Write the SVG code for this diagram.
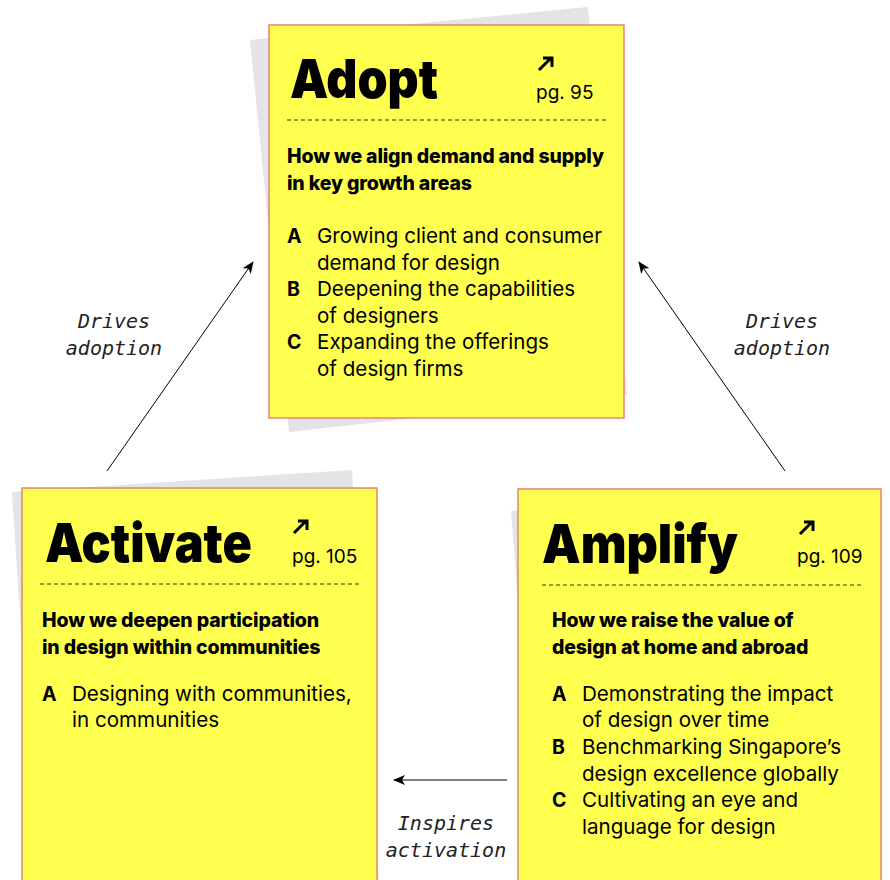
<svg xmlns="http://www.w3.org/2000/svg" width="890" height="880" viewBox="0 0 890 880">
<style>
.card{fill:#ffff50;stroke:#f08070;stroke-width:1.5}
.back{fill:#e3e4e6}
.title{font-family:Inter,"Liberation Sans",sans-serif;font-weight:900;font-size:54px;fill:#000}
.pg{font-family:Inter,"Liberation Sans",sans-serif;font-size:19px;fill:#000}
.sub{font-family:Inter,"Liberation Sans",sans-serif;font-weight:800;font-size:19.5px;fill:#000;letter-spacing:-0.15px}
.item{font-family:Inter,"Liberation Sans",sans-serif;font-size:20.6px;fill:#000}
.letter{font-family:Inter,"Liberation Sans",sans-serif;font-weight:700;font-size:19.5px;fill:#000}
.dash{stroke:#333;stroke-width:1;stroke-dasharray:4 3}
.ico{fill:none;stroke:#000;stroke-width:3}
.conn{stroke:#000;stroke-width:1;fill:none}
.lbl{font-family:"DejaVu Sans Mono","Liberation Mono",monospace;font-style:italic;font-size:20px;fill:#222;text-anchor:middle}
</style>
<defs>
<marker id="ah" viewBox="0 0 12 10" refX="11" refY="5" markerWidth="12" markerHeight="10" markerUnits="userSpaceOnUse" orient="auto">
<path d="M0,0 L12,5 L0,10 L3,5 Z" fill="#000"/>
</marker>
</defs>
<rect width="890" height="880" fill="#fff"/>

<g id="adopt">
<polygon class="back" points="250,40 588,7 627,395 289,432"/>
<rect class="card" x="269" y="25" width="355" height="393"/>
<text class="title" x="290" y="98" textLength="148" lengthAdjust="spacingAndGlyphs">Adopt</text>
<path class="ico" d="M539,70 L551,58 M543,58 L552,58 L552,67"/>
<text class="pg" x="536" y="99">pg. 95</text>
<line class="dash" x1="287" y1="120" x2="607" y2="120"/>
<text class="sub" x="287" y="163">How we align demand and supply</text>
<text class="sub" x="287" y="190">in key growth areas</text>
<text class="letter" x="287" y="243">A</text>
<text class="item" x="317" y="243">Growing client and consumer</text>
<text class="item" x="317" y="270">demand for design</text>
<text class="letter" x="287" y="296">B</text>
<text class="item" x="317" y="296">Deepening the capabilities</text>
<text class="item" x="317" y="323">of designers</text>
<text class="letter" x="287" y="349">C</text>
<text class="item" x="317" y="349">Expanding the offerings</text>
<text class="item" x="317" y="376">of design firms</text>
</g>

<g id="activate">
<polygon class="back" points="12,492 352,470 381,912 41,934"/>
<rect class="card" x="22" y="488" width="355" height="410"/>
<text class="title" x="45" y="562" textLength="207" lengthAdjust="spacingAndGlyphs">Activate</text>
<path class="ico" d="M294,533 L306,521 M298,521 L307,521 L307,530"/>
<text class="pg" x="292" y="563">pg. 105</text>
<line class="dash" x1="40" y1="584" x2="360" y2="584"/>
<text class="sub" x="42" y="627">How we deepen participation</text>
<text class="sub" x="42" y="654">in design within communities</text>
<text class="letter" x="42" y="701">A</text>
<text class="item" x="72" y="701">Designing with communities,</text>
<text class="item" x="72" y="727">in communities</text>
</g>

<g id="amplify">
<polygon class="back" points="511,511 800,489 830,880 541,902"/>
<rect class="card" x="518" y="489" width="363" height="410"/>
<text class="title" x="542" y="563" textLength="196" lengthAdjust="spacingAndGlyphs">Amplify</text>
<path class="ico" d="M800,534 L812,522 M804,522 L813,522 L813,531"/>
<text class="pg" x="797" y="563">pg. 109</text>
<line class="dash" x1="542" y1="585" x2="862" y2="585"/>
<text class="sub" x="552" y="627">How we raise the value of</text>
<text class="sub" x="552" y="654">design at home and abroad</text>
<text class="letter" x="552" y="701">A</text>
<text class="item" x="582" y="701">Demonstrating the impact</text>
<text class="item" x="582" y="727">of design over time</text>
<text class="letter" x="552" y="754">B</text>
<text class="item" x="582" y="754">Benchmarking Singapore’s</text>
<text class="item" x="582" y="781">design excellence globally</text>
<text class="letter" x="552" y="807">C</text>
<text class="item" x="582" y="807">Cultivating an eye and</text>
<text class="item" x="582" y="834">language for design</text>
</g>

<g id="connectors">
<line class="conn" x1="107" y1="471" x2="253" y2="262" marker-end="url(#ah)"/>
<line class="conn" x1="785" y1="471" x2="639" y2="262" marker-end="url(#ah)"/>
<line class="conn" x1="507" y1="780" x2="394" y2="780" marker-end="url(#ah)"/>
<text class="lbl" x="114" y="328">Drives</text>
<text class="lbl" x="114" y="355">adoption</text>
<text class="lbl" x="782" y="328">Drives</text>
<text class="lbl" x="782" y="355">adoption</text>
<text class="lbl" x="446" y="830">Inspires</text>
<text class="lbl" x="446" y="857">activation</text>
</g>
</svg>
